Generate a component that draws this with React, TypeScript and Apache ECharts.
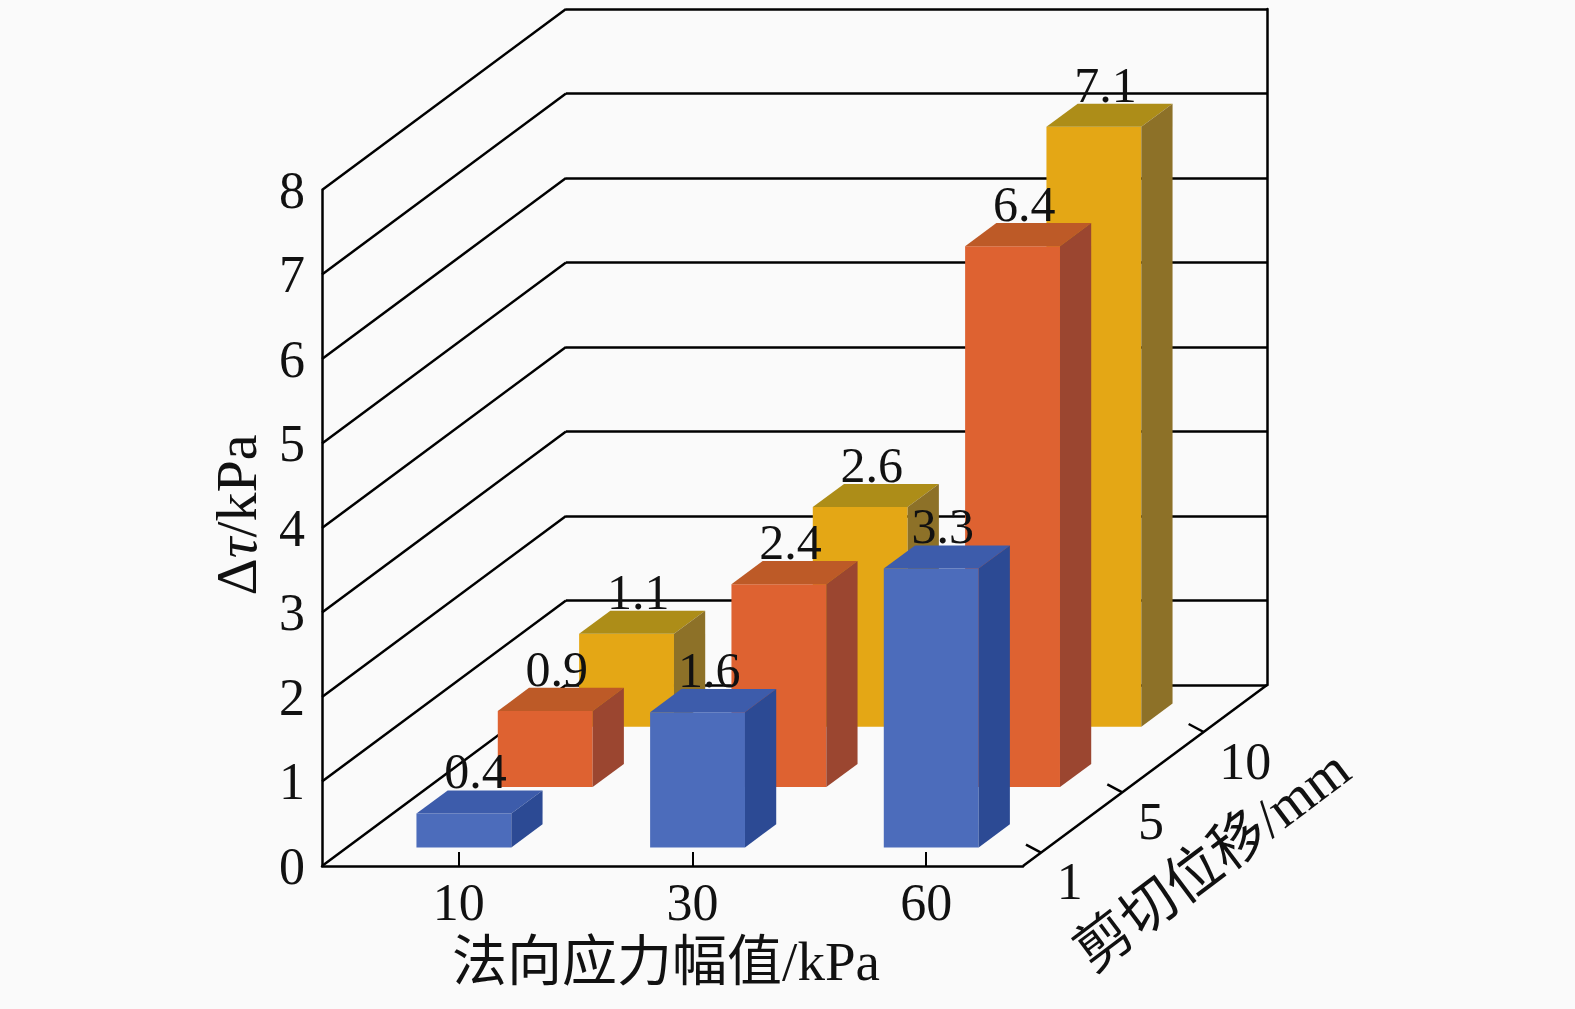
import React, { useEffect, useRef } from "react";
import * as echarts from "echarts";

// ---------- data ----------
const categories = ["10", "30", "60"]; // 法向应力幅值/kPa
const depthLabels = ["1", "5", "10"]; // 剪切位移/mm
const values1mm = [0.4, 1.6, 3.3];
const values5mm = [0.9, 2.4, 6.4];
const values10mm = [1.1, 2.6, 7.1];
const yMin = 0;
const yMax = 8;
const yInterval = 1;
const yTicks = [0, 1, 2, 3, 4, 5, 6, 7, 8];

// ---------- layout / style ----------
const FRONT = { left: 322, top: 190, width: 701, height: 676 };
const DX = 244; // depth vector (full depth)
const DY = -181;
const BAR_W = 0.406; // share of category band
const BAR_D = 0.128; // share of full depth
const ROWS = 3;
const FONT = "'Liberation Serif', 'Times New Roman', 'Noto Sans CJK SC', serif";
const LINE = "#000";
const LW = 2.5;

const palette = [
  { front: "#4c6cbb", top: "#3d5cab", side: "#2c4a94" },
  { front: "#de6231", top: "#bd5a27", side: "#9b4630" },
  { front: "#e4a715", top: "#ad8d18", side: "#8d7128" },
];

function makeBarRender(row: number) {
  return (params: any, api: any) => {
    const cat = api.value(0);
    const v = api.value(1);
    const top = api.coord([cat, v]);
    const base = api.coord([cat, 0]);
    const band = api.size([1, 0])[0];
    const hw = (band * BAR_W) / 2;
    const dc = (row + 0.5) / ROWS;
    const d0 = dc - BAR_D / 2;
    const d1 = dc + BAR_D / 2;
    const P = (x: number, y: number, d: number) => [x + d * DX, y + d * DY];
    const xl = top[0] - hw;
    const xr = top[0] + hw;
    const yt = top[1];
    const yb = base[1];
    const c = palette[row];
    return {
      type: "group",
      children: [
        {
          type: "polygon",
          shape: { points: [P(xl, yt, d0), P(xr, yt, d0), P(xr, yb, d0), P(xl, yb, d0)] },
          style: { fill: c.front },
        },
        {
          type: "polygon",
          shape: { points: [P(xl, yt, d0), P(xr, yt, d0), P(xr, yt, d1), P(xl, yt, d1)] },
          style: { fill: c.top },
        },
        {
          type: "polygon",
          shape: { points: [P(xr, yt, d0), P(xr, yt, d1), P(xr, yb, d1), P(xr, yb, d0)] },
          style: { fill: c.side },
        },
        {
          type: "text",
          style: {
            text: String(v),
            x: top[0] + dc * DX - 4,
            y: yt + d1 * DY - 19,
            align: "center",
            verticalAlign: "middle",
            fontSize: 50,
            fontFamily: FONT,
            fill: "#111",
          },
        },
      ],
    };
  };
}

function wallRender(params: any, api: any) {
  const v = api.value(1);
  const cs = params.coordSys;
  const y = api.coord([0, v])[1];
  const x = cs.x;
  return {
    type: "line",
    shape: { x1: x, y1: y, x2: x + DX, y2: y + DY },
    style: { stroke: LINE, lineWidth: LW },
  };
}

function depthAxisRender(params: any, api: any) {
  const i = api.value(2);
  const cs = params.coordSys;
  const x0 = cs.x + cs.width;
  const y0 = api.coord([0, 0])[1];
  const fc = (i + 0.5) / ROWS;
  const ft = fc - 0.093;
  const ax = x0 + ft * DX;
  const ay = y0 + ft * DY;
  const children: any[] = [
    {
      type: "line",
      shape: { x1: ax, y1: ay, x2: ax - 15, y2: ay - 8 },
      style: { stroke: LINE, lineWidth: LW },
    },
    {
      type: "text",
      style: {
        text: depthLabels[i],
        x: x0 + fc * DX - 7,
        y: y0 + fc * DY + 46,
        align: "left",
        verticalAlign: "middle",
        fontSize: 52,
        fontFamily: FONT,
        fill: "#111",
      },
    },
  ];
  if (i === 0) {
    children.push({
      type: "line",
      shape: { x1: x0, y1: y0, x2: x0 + DX, y2: y0 + DY },
      style: { stroke: LINE, lineWidth: LW },
    });
  }
  return { type: "group", children };
}

function App() {
  const ref = useRef<HTMLDivElement>(null);
  useEffect(() => {
    if (!ref.current) return;
    const chart = echarts.init(ref.current, null, { renderer: "svg" });
    const barSeries = [
      { row: 2, data: values10mm },
      { row: 1, data: values5mm },
      { row: 0, data: values1mm },
    ].map((s, k) => ({
      type: "custom",
      name: depthLabels[s.row],
      xAxisIndex: 0,
      yAxisIndex: 0,
      z: 3 + k,
      renderItem: makeBarRender(s.row),
      data: s.data.map((v, ci) => [ci, v]),
      encode: { x: 0, y: 1 },
      silent: true,
    }));
    const option: any = {
      animation: false,
      backgroundColor: "#fafafa",
      grid: [
        { left: FRONT.left, top: FRONT.top, width: FRONT.width, height: FRONT.height },
        { left: FRONT.left + DX, top: FRONT.top + DY, width: FRONT.width, height: FRONT.height },
        { left: FRONT.left + 20, top: FRONT.top, width: FRONT.width, height: FRONT.height },
      ],
      xAxis: [
        {
          gridIndex: 0,
          type: "category",
          data: categories,
          axisLine: { show: true, lineStyle: { color: LINE, width: LW } },
          axisTick: { show: false },
          axisLabel: { show: false },
          z: 2,
        },
        { gridIndex: 1, type: "category", data: categories, show: false },
        {
          gridIndex: 2,
          type: "category",
          data: categories,
          axisLine: { show: false },
          axisTick: {
            show: true,
            inside: true,
            length: 14,
            alignWithLabel: true,
            lineStyle: { color: LINE, width: 2 },
          },
          axisLabel: { fontSize: 52, fontFamily: FONT, color: "#111", margin: 10 },
        },
      ],
      yAxis: [
        {
          gridIndex: 0,
          type: "value",
          min: yMin,
          max: yMax,
          interval: yInterval,
          axisLine: { show: true, lineStyle: { color: LINE, width: LW } },
          axisTick: { show: false },
          splitLine: { show: false },
          axisLabel: { fontSize: 52, fontFamily: FONT, color: "#111", margin: 17 },
          z: 2,
        },
        {
          gridIndex: 1,
          type: "value",
          position: "right",
          min: yMin,
          max: yMax,
          interval: yInterval,
          axisLine: { show: true, lineStyle: { color: LINE, width: LW } },
          axisTick: { show: false },
          axisLabel: { show: false },
          splitLine: { show: true, lineStyle: { color: LINE, width: LW } },
        },
        { gridIndex: 2, type: "value", min: yMin, max: yMax, show: false },
      ],
      graphic: [
        {
          type: "text",
          x: 666,
          y: 961,
          style: {
            text: "法向应力幅值/kPa",
            align: "center",
            verticalAlign: "middle",
            fontSize: 55,
            fontFamily: FONT,
            fill: "#111",
          },
        },
        {
          type: "text",
          x: 236,
          y: 515,
          rotation: Math.PI / 2,
          style: {
            text: "{n|Δ}{i|τ}{n|/kPa}",
            align: "center",
            verticalAlign: "middle",
            fontSize: 58,
            fontFamily: FONT,
            fill: "#111",
            rich: {
              n: { fontSize: 58, fontFamily: FONT, fill: "#111" },
              i: { fontSize: 58, fontFamily: FONT, fontStyle: "italic", fill: "#111" },
            },
          },
        },
        {
          type: "text",
          x: 1212,
          y: 860,
          rotation: (37 * Math.PI) / 180,
          style: {
            text: "剪切位移/mm",
            align: "center",
            verticalAlign: "middle",
            fontSize: 56,
            fontFamily: FONT,
            fill: "#111",
          },
        },
      ],
      series: [
        {
          type: "custom",
          name: "walls",
          xAxisIndex: 0,
          yAxisIndex: 0,
          z: 1,
          renderItem: wallRender,
          data: yTicks.map((v) => [0, v]),
          encode: { x: 0, y: 1 },
          silent: true,
        },
        ...barSeries,
        {
          type: "custom",
          name: "depthAxis",
          xAxisIndex: 0,
          yAxisIndex: 0,
          z: 10,
          renderItem: depthAxisRender,
          data: depthLabels.map((_, i) => [0, 0, i]),
          encode: { x: 0, y: 1 },
          silent: true,
        },
      ],
    };
    chart.setOption(option);
    return () => chart.dispose();
  }, []);
  return (
    <div
      ref={ref}
      style={{ position: "fixed", left: 0, top: 0, width: 1575, height: 1009 }}
    />
  );
}

export default App;
